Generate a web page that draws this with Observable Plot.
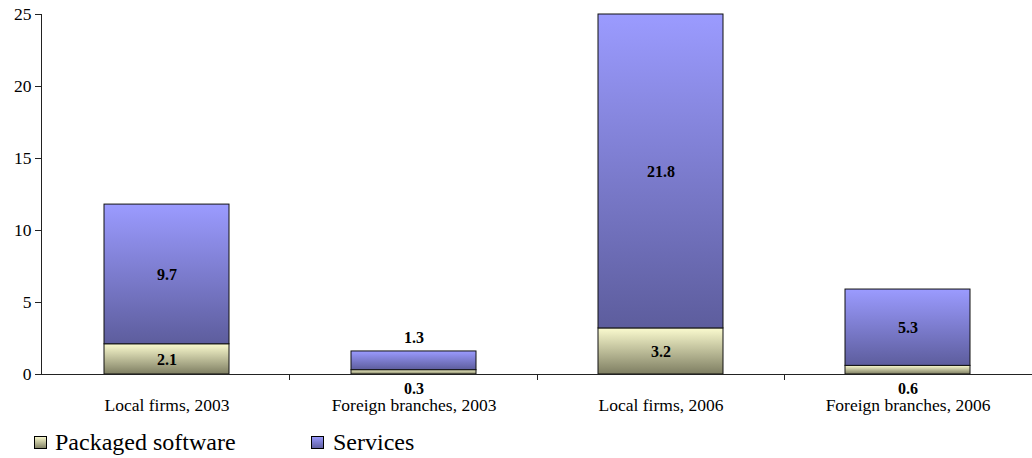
<!DOCTYPE html>
<html><head><meta charset="utf-8">
<script src="https://cdn.jsdelivr.net/npm/d3@7"></script>
<script src="https://cdn.jsdelivr.net/npm/@observablehq/plot@0.6"></script>
<style>
body{margin:0;background:#fff;width:1032px;height:458px;overflow:hidden}
svg{display:block}
</style>
</head><body>
<div id="chart"></div>
<div id="legend"></div>
<script>
const categories = ["Local firms, 2003", "Foreign branches, 2003", "Local firms, 2006", "Foreign branches, 2006"];
const series = ["Packaged software", "Services"];
const packaged = [2.1, 0.3, 3.2, 0.6];
const services = [9.7, 1.3, 21.8, 5.3];
const yTicks = [0, 5, 10, 15, 20, 25];

const gradients = {
  "Packaged software": {id: "gradPkg", top: "#fbfbcf", bottom: "#7e7e62"},
  "Services": {id: "gradSvc", top: "#9b9bff", bottom: "#5d5d9d"}
};
const FONT = "'Liberation Serif', 'Times New Roman', serif";

const data = categories.flatMap((c, i) => [
  {category: c, series: series[0], value: packaged[i]},
  {category: c, series: series[1], value: services[i]}
]);
const fmt = v => v.toFixed(1);
const inside = d => d.series === series[0] ? d.value >= 1 : d.value >= 1.5;

const chart = Plot.plot({
  width: 1032, height: 420,
  marginLeft: 41, marginRight: 0, marginTop: 14, marginBottom: 46,
  style: {fontFamily: FONT, background: "white", color: "#000", overflow: "visible"},
  x: {domain: categories, paddingInner: 0.495, paddingOuter: 0.2475, align: 0.5, label: null},
  y: {domain: [0, 25], label: null},
  color: {domain: series, range: series.map(s => `url(#${gradients[s].id})`)},
  marks: [
    Plot.barY(data, {x: "category", y: "value", z: "series", fill: "series", stroke: "#111", strokeWidth: 1}),
    Plot.ruleY([0], {stroke: "#222"}),
    Plot.frame({anchor: "left", stroke: "#222"}),
    Plot.axisY({ticks: yTicks, tickSize: 6, tickPadding: 4, fontSize: 17.5, label: null, stroke: "#222"}),
    Plot.axisX({tickSize: 0, tickPadding: 24, fontSize: 17.5, label: null}),
    Plot.text(data, Plot.stackY({x: "category", y: "value", z: "series",
      text: d => inside(d) ? fmt(d.value) : "", fontWeight: "bold", fontSize: 16})),
    Plot.text(data, Plot.stackY2({x: "category", y: "value", z: "series",
      text: d => (d.series === series[1] && !inside(d)) ? fmt(d.value) : "", fontWeight: "bold", fontSize: 16, dy: -14})),
    Plot.text(data, {x: "category", y: d => 0,
      text: d => (d.series === series[0] && !inside(d)) ? fmt(d.value) : "", fontWeight: "bold", fontSize: 16, dy: 14})
  ]
});

function addGradients(svg) {
  const defs = d3.select(svg).insert("defs", ":first-child");
  for (const s of series) {
    const g = gradients[s];
    const lg = defs.append("linearGradient").attr("id", g.id).attr("x1", 0).attr("y1", 0).attr("x2", 0).attr("y2", 1);
    lg.append("stop").attr("offset", "0%").attr("stop-color", g.top);
    lg.append("stop").attr("offset", "100%").attr("stop-color", g.bottom);
  }
}
addGradients(chart);

// category boundary ticks from the x scale
const xs = chart.scale("x");
const band = d3.scaleBand(xs.domain, xs.range).paddingInner(xs.paddingInner).paddingOuter(xs.paddingOuter).align(xs.align);
const ys = chart.scale("y");
const yScale = d3.scaleLinear(ys.domain, ys.range);
const y0 = yScale(0);
const tickG = d3.select(chart).append("g").attr("stroke", "#222");
categories.slice(0, -1).forEach(c => {
  const bx = Math.round(band(c) + band.bandwidth() + (band.step() - band.bandwidth()) / 2) + 0.5;
  tickG.append("line").attr("x1", bx).attr("x2", bx).attr("y1", y0).attr("y2", y0 + 6);
});

document.getElementById("chart").appendChild(chart);

// legend (separate SVG below the chart)
const legendPos = [{sw: 34, tx: 55}, {sw: 311, tx: 333}];
const leg = d3.select("#legend").append("svg").attr("width", 1032).attr("height", 38)
  .style("font-family", FONT);
series.forEach((s, i) => {
  const g = gradients[s];
  const lgd = leg.append("defs").append("linearGradient").attr("id", g.id + "L")
    .attr("x1", 0).attr("y1", 0).attr("x2", 0).attr("y2", 1);
  lgd.append("stop").attr("offset", "0%").attr("stop-color", g.top);
  lgd.append("stop").attr("offset", "100%").attr("stop-color", g.bottom);
  leg.append("rect").attr("x", legendPos[i].sw + 0.5).attr("y", 16.5).attr("width", 12).attr("height", 12)
    .attr("fill", `url(#${g.id}L)`).attr("stroke", "#000");
  leg.append("text").attr("x", legendPos[i].tx).attr("y", 30).attr("font-size", 24).attr("fill", "#000").text(s);
});
</script>
</body></html>
